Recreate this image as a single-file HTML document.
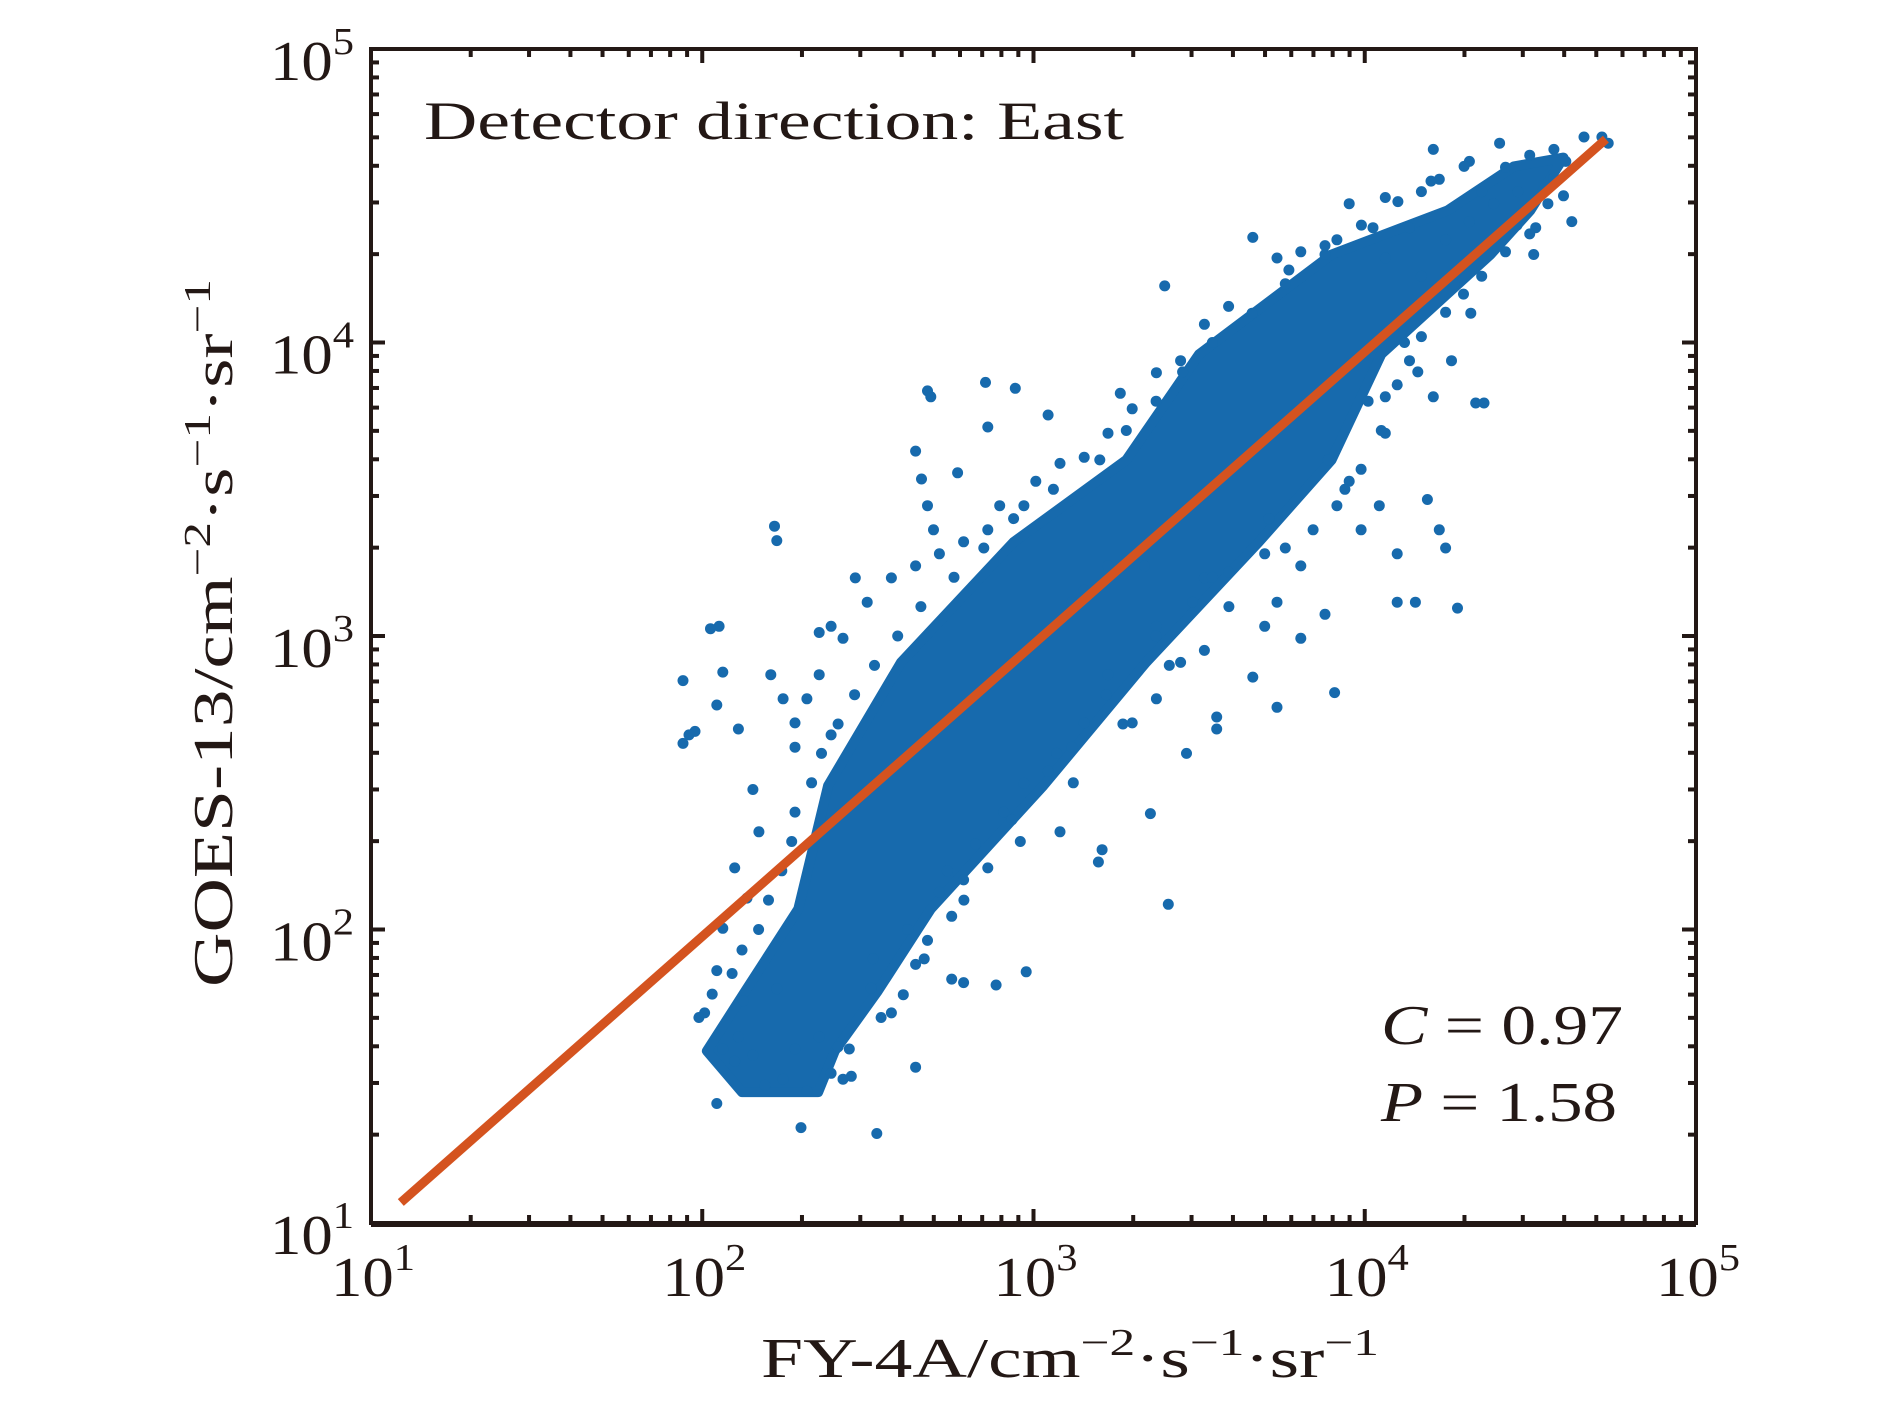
<!DOCTYPE html>
<html><head><meta charset="utf-8"><style>
html,body{margin:0;padding:0;background:#fff}
svg{display:block}
text{font-family:"Liberation Serif",serif;fill:#231815}
</style></head><body>
<svg id="chart" width="1890" height="1406" viewBox="0 0 1890 1406" xmlns="http://www.w3.org/2000/svg">
<rect x="0" y="0" width="1890" height="1406" fill="#fff"/>
<g id="core"></g>
<g id="pts"></g>
<g id="fit"></g>
<g id="axes"></g>
<text x="424" y="139" font-size="54" textLength="700" lengthAdjust="spacingAndGlyphs">Detector direction: East</text>
<text x="1381" y="1044" font-size="56" textLength="242" lengthAdjust="spacingAndGlyphs"><tspan font-style="italic">C</tspan> = 0.97</text>
<text x="1381" y="1121" font-size="56" textLength="236" lengthAdjust="spacingAndGlyphs"><tspan font-style="italic">P</tspan> = 1.58</text>
<text x="761" y="1377" font-size="56" textLength="618" lengthAdjust="spacingAndGlyphs">FY-4A/cm<tspan dy="-22" font-size="38">−2</tspan><tspan dy="22">·s</tspan><tspan dy="-22" font-size="38">−1</tspan><tspan dy="22">·sr</tspan><tspan dy="-22" font-size="38">−1</tspan></text>
<text transform="translate(232,987) rotate(-90)" font-size="56" textLength="708" lengthAdjust="spacingAndGlyphs">GOES-13/cm<tspan dy="-22" font-size="38">−2</tspan><tspan dy="22">·s</tspan><tspan dy="-22" font-size="38">−1</tspan><tspan dy="22">·sr</tspan><tspan dy="-22" font-size="38">−1</tspan></text>
</svg>
<script>
// Data (log10 exponents of flux values)
const xDecades = [1, 2, 3, 4, 5];
const yDecades = [1, 2, 3, 4, 5];
const fitLogX = [1.09, 4.728];
const fitLogY = [1.07, 4.693];
const coreLogX = [2.12,2.014,2.13,2.29,2.38,2.60,2.94,3.28,3.50,3.90,4.25,4.45,4.60,4.50,4.38,4.05,3.90,3.68,3.34,3.03,2.69,2.53,2.40,2.35];
const coreLogY = [1.446,1.586,1.79,2.07,2.49,2.91,3.32,3.60,3.96,4.30,4.45,4.60,4.63,4.45,4.30,3.96,3.60,3.32,2.91,2.49,2.07,1.79,1.586,1.446];
const ptLogX = [1.942,1.978,2.044,2.062,2.051,2.218,2.225,2.353,2.68,2.69,2.855,2.862,2.945,3.044,2.644,2.662,2.771,3.262,3.396,3.662,3.771,4.207,4.225,4.316,4.407,4.516,4.625,4.735,4.716,4.662,4.189,4.225,4.244,4.098,4.153,4.28,4.335,4.36,4.044,3.909,3.735,3.662,3.553,3.553,3.462,3.353,3.407,3.207,3.196,3.08,2.978,2.887,2.789,2.753,2.644,2.527,2.298,2.044,1.942,1.96,2.025,2.109,2.207,2.244,2.28,2.153,2.171,2.098,2.135,2.062,2.044,2.007,2.062,2.098,2.189,2.244,2.316,2.389,2.444,2.571,2.607,2.516,2.425,2.353,2.28,2.225,2.124,2.109,2.153,3.116,3.153,3.225,3.335,3.371,3.48,3.516,3.589,3.698,3.807,3.844,3.916,3.953,4.062,4.098,4.135,4.171,4.244,4.298,4.353,4.425,4.498,4.553,4.571,4.462,4.389,4.316,4.135,4.062,3.916,3.88,3.807,3.735,3.589,3.516,3.444,3.371,3.298,3.225,3.153,3.08,3.007,2.971,2.898,2.862,2.789,2.716,2.644,2.68,2.698,2.571,2.498,2.425,2.389,2.462,2.353,2.316,2.28,2.389,3.225,3.153,3.116,3.044,2.971,2.935,2.825,2.789,2.862,2.753,2.68,2.644,2.716,3.298,3.371,3.444,3.516,3.698,3.807,3.88,3.735,3.989,4.098,3.989,4.062,4.207,4.262,4.171,4.244,4.425,4.498,4.571,4.607,4.353,4.025,3.953,4.062,4.171,
 1.99,2.09,2.17,2.24,2.28,2.36,2.46,2.59,2.76,2.94,3.20,3.37,3.54,3.76,3.99,4.20,
 2.45,2.54,2.67,2.79,2.96,3.12,3.27,3.41,3.59,3.76,3.94,4.05,4.16,4.32,4.51,4.60,
 2.03,2.12,2.20,2.27,2.33,2.41,2.52,2.66,2.85,3.06,3.28,3.45,3.66,3.88,4.10,4.30,
 2.41,2.51,2.62,2.74,2.91,3.07,3.22,3.37,3.54,3.71,3.89,4.01,4.12,4.27,4.46,4.57];
const ptLogY = [2.634,2.675,2.765,2.877,3.033,3.374,3.325,3.012,3.835,3.815,3.864,3.712,3.844,3.753,3.63,3.535,3.556,3.827,4.193,4.358,4.247,4.658,4.556,4.617,4.679,4.391,4.412,4.679,4.70,4.70,3.465,3.362,3.30,3.115,3.115,3.095,3.794,3.794,3.444,2.807,2.757,2.86,2.724,2.683,2.60,2.395,2.086,2.272,2.23,2.333,1.856,1.811,1.819,1.831,1.531,1.305,1.325,1.407,2.848,2.663,3.025,2.683,2.868,2.786,2.704,2.477,2.333,2.21,2.107,2.004,1.86,1.716,1.593,1.551,1.469,1.49,1.449,1.51,1.593,1.716,1.778,1.901,1.49,1.634,1.593,1.798,1.757,1.634,1.572,3.115,3.156,3.239,3.239,3.033,3.115,3.198,3.218,3.28,3.239,3.362,3.444,3.527,3.691,3.856,3.938,4.02,4.103,4.165,4.226,4.309,4.37,4.473,4.556,4.514,4.473,4.412,4.391,4.288,4.35,4.33,4.309,4.288,4.123,4.062,3.938,3.897,3.774,3.691,3.609,3.588,3.527,3.444,3.444,3.362,3.321,3.28,3.239,3.444,3.362,3.198,3.115,2.992,3.033,3.198,2.868,2.786,2.621,2.663,2.868,2.704,2.621,2.539,2.498,2.374,2.292,2.169,2.21,2.045,1.963,1.881,2.127,2.704,2.786,2.91,2.951,3.033,2.992,3.074,3.115,3.362,3.28,3.568,3.815,3.815,3.938,4.226,4.35,4.597,4.638,4.658,4.617,4.514,4.391,4.473,4.494,4.514,
 1.70,1.85,2.0,2.2,2.4,2.6,2.8,3.0,3.2,3.4,3.6,3.8,4.0,4.2,4.4,4.55,
 1.5,1.7,1.9,2.1,2.3,2.5,2.7,2.9,3.1,3.3,3.5,3.7,3.9,4.1,4.3,4.5,
 1.78,1.93,2.1,2.3,2.5,2.7,2.9,3.1,3.3,3.5,3.7,3.9,4.1,4.3,4.48,4.6,
 1.6,1.8,2.0,2.2,2.4,2.6,2.8,3.0,3.2,3.4,3.6,3.8,4.0,4.2,4.4,4.56];

const NS='http://www.w3.org/2000/svg';
const X0=371,X1=1696,Y0=1223,Y1=49;
function sx(l){return X0+(l-1)/4*(X1-X0);}
function sy(l){return Y0-(l-1)/4*(Y0-Y1);}
function mk(tag,parent,attrs){const e=document.createElementNS(NS,tag);for(const k in attrs)e.setAttribute(k,attrs[k]);parent.appendChild(e);return e;}
const BLUE='#176aad';

const core=document.getElementById('core');
let d='';
for(let i=0;i<coreLogX.length;i++){d+=(i?'L':'M')+sx(coreLogX[i]).toFixed(1)+','+sy(coreLogY[i]).toFixed(1);}
const poly=mk('path',core,{d:d+'Z',fill:BLUE,stroke:BLUE,'stroke-width':10,'stroke-linejoin':'round'});



const pts=document.getElementById('pts');
for(let i=0;i<ptLogX.length;i++){
  const c=mk('circle',pts,{cx:sx(ptLogX[i]).toFixed(1),cy:sy(ptLogY[i]).toFixed(1),r:5.5,fill:BLUE});
  
  
}

const fit=document.getElementById('fit');
const ln=mk('line',fit,{x1:sx(fitLogX[0]),y1:sy(fitLogY[0]),x2:sx(fitLogX[1]),y2:sy(fitLogY[1]),stroke:'#d4531f','stroke-width':9});



const ax=document.getElementById('axes');
const box=mk('rect',ax,{x:X0,y:Y1,width:X1-X0,height:Y0-Y1,fill:'none',stroke:'#231815','stroke-width':4});


const bl=mk('line',ax,{x1:X0,y1:Y0+1,x2:X1,y2:Y0+1,stroke:'#231815','stroke-width':6});


for(let k=0;k<xDecades.length;k++){
  const dec=xDecades[k];
  for(let m=1;m<=9;m++){
    if(dec===5&&m>1)break;
    const l=dec+Math.log10(m);const L=m===1?14:8;
    const px=sx(l),py=sy(l);
    mk('line',ax,{x1:px,y1:Y0,x2:px,y2:Y0-L,stroke:'#231815','stroke-width':4});
    mk('line',ax,{x1:px,y1:Y1,x2:px,y2:Y1+L,stroke:'#231815','stroke-width':4});
    mk('line',ax,{x1:X0,y1:py,x2:X0+L,y2:py,stroke:'#231815','stroke-width':4});
    mk('line',ax,{x1:X1,y1:py,x2:X1-L,y2:py,stroke:'#231815','stroke-width':4});
  }
  const tx=mk('text',ax,{x:sx(dec)-40,y:1296,'font-size':56,textLength:84,lengthAdjust:'spacingAndGlyphs'});
  
  
  tx.innerHTML='10<tspan dy="-26" font-size="38">'+dec+'</tspan>';
}
for(let k=0;k<yDecades.length;k++){
  const dec=yDecades[k];
  const ty=mk('text',ax,{x:270,y:sy(dec)+31,'font-size':56,textLength:84,lengthAdjust:'spacingAndGlyphs'});
  
  
  ty.innerHTML='10<tspan dy="-26" font-size="38">'+dec+'</tspan>';
}
</script>
</body></html>
